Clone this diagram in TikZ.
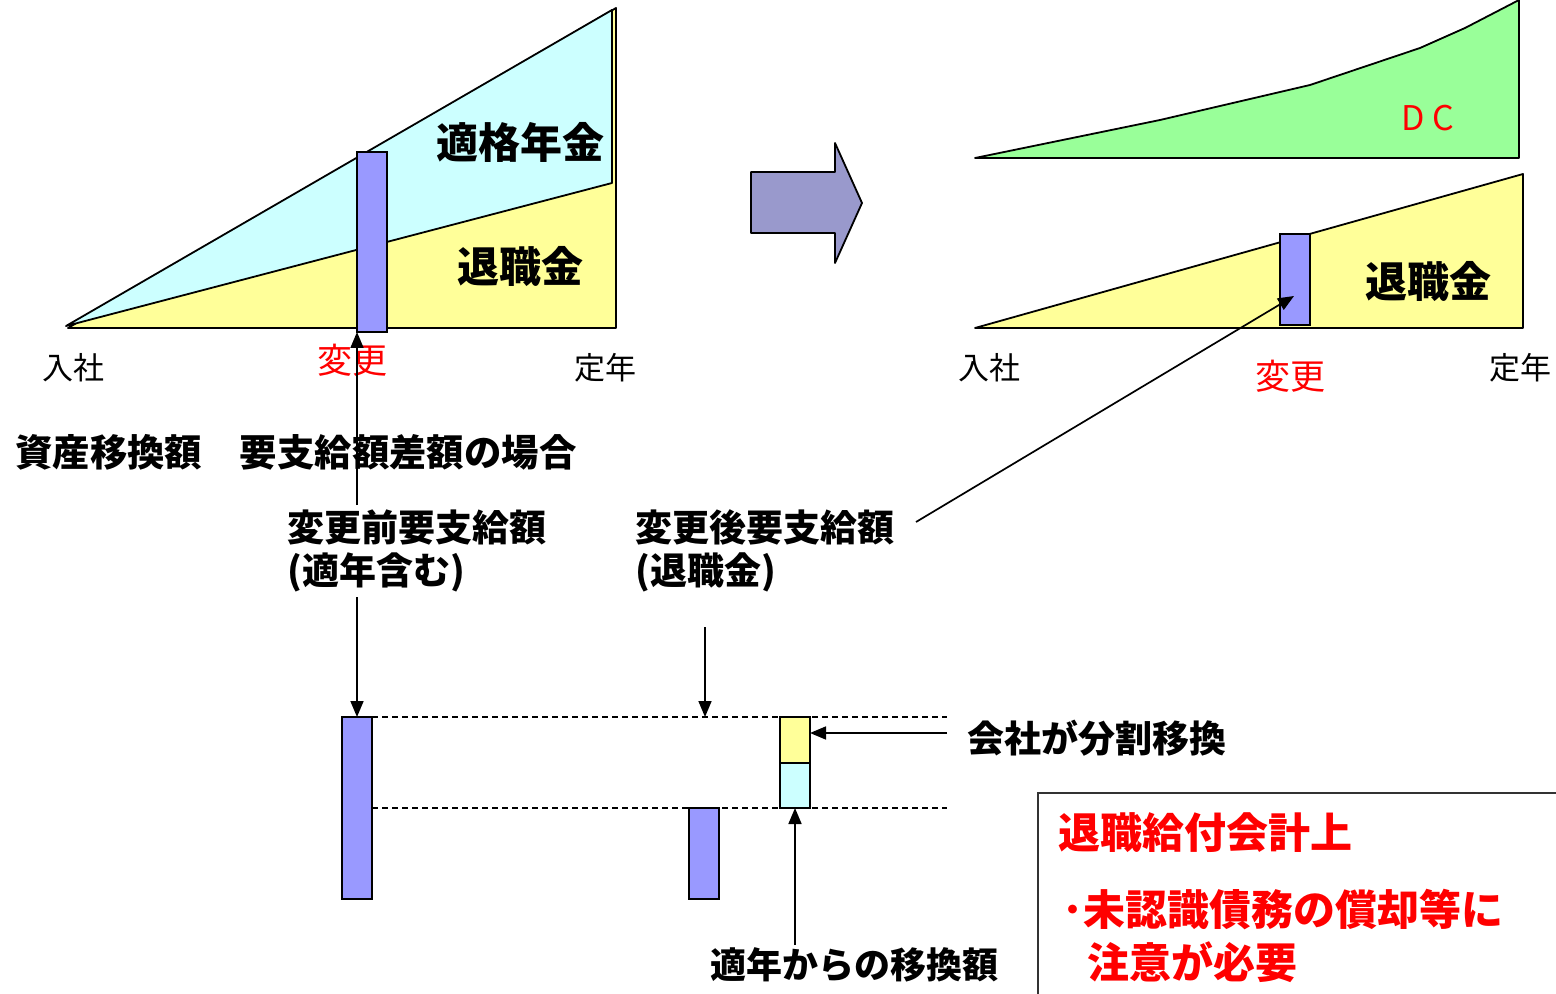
\documentclass[tikz,border=0pt]{standalone}
\usepackage{fontspec}
\setmainfont{Noto Sans CJK JP}
\usetikzlibrary{arrows.meta}
\definecolor{cyanF}{HTML}{CCFFFF}
\definecolor{yelF}{HTML}{FFFF99}
\definecolor{barF}{HTML}{9999FF}
\definecolor{grnF}{HTML}{99FF99}
\definecolor{arrF}{HTML}{9999CC}
\definecolor{redT}{HTML}{FF0000}
\begin{document}
\begin{tikzpicture}[x=0.5pt,y=-0.5pt,
  outline/.style={draw=black, line width=0.9pt, line join=round},
  barbox/.style={draw=black, line width=0.9pt, inner sep=0pt, outer sep=0pt, minimum width=15pt, fill=barF},
  lbl/.style={inner sep=0pt, anchor=west, font=\fontsize{18.5pt}{22pt}\selectfont\bfseries},
  axlbl/.style={inner sep=0pt, font=\fontsize{15.5pt}{18pt}\selectfont},
  chglbl/.style={inner sep=0pt, text=redT, font=\fontsize{17.5pt}{20pt}\selectfont},
  biglbl/.style={inner sep=0pt, font=\fontsize{21pt}{24pt}\selectfont\bfseries},
  redlbl/.style={inner sep=0pt, anchor=west, text=redT, font=\fontsize{21pt}{24pt}\selectfont\bfseries},
  arr/.style={-{Triangle[length=8pt,width=6.5pt]}, line width=0.85pt},
  dashline/.style={line width=0.9pt, dash pattern=on 3pt off 2pt}
]
\useasboundingbox (0,0) rectangle (1556,994);

% ---------- left chart ----------
\filldraw[outline, fill=yelF] (68,328) -- (616,8) -- (616,328) -- cycle;
\filldraw[outline, fill=cyanF] (66,326) -- (612,10) -- (612,183) -- cycle;
\node[barbox, minimum height=90pt] (b1) at (372,242) {};
\node[biglbl] (tekikaku) at (520,142) {適格年金};
\node[biglbl] (taishokuL) at (520,267) {退職金};
\node[axlbl] (nyushaL) at (73,368) {入社};
\node[chglbl] (henkoL) at (352,360) {変更};
\node[axlbl] (teinenL) at (605,368) {定年};

% ---------- big arrow ----------
\filldraw[outline, fill=arrF] (751,172) -- (835,172) -- (835,143) -- (862,203) -- (835,263) -- (835,233) -- (751,233) -- cycle;

% ---------- right chart ----------
\filldraw[outline, fill=grnF] (975,158) -- (1160,120) -- (1310,85) -- (1420,48) -- (1465,28) -- (1519,0) -- (1519,158) -- cycle;
\node[inner sep=0pt, text=redT, font=\fontsize{17pt}{20pt}\selectfont] (dc) at (1428,118) {D C};
\filldraw[outline, fill=yelF] (975,328) -- (1523,174) -- (1523,328) -- cycle;
\node[barbox, minimum height=45.5pt] (b2) at (1295,279.5) {};
\node[biglbl] (taishokuR) at (1428,282) {退職金};
\node[axlbl] (nyushaR) at (989,368) {入社};
\node[chglbl] (henkoR) at (1290,376) {変更};
\node[axlbl] (teinenR) at (1520,368) {定年};

% ---------- middle texts ----------
\node[lbl, font=\fontsize{18.7pt}{22pt}\selectfont\bfseries] (title) at (15,452) {資産移換額　要支給額差額の場合};
\node[lbl] (before1) at (287,527) {変更前要支給額};
\node[lbl] (before2) at (287,572) {(適年含む)};
\node[lbl] (after1) at (635,527) {変更後要支給額};
\node[lbl] (after2) at (635,572) {(退職金)};

% ---------- lower bars ----------
\node[barbox, minimum height=91pt] (lb1) at (357,808) {};
\node[barbox, minimum height=45.5pt] (mb) at (704,853.5) {};
\node[barbox, fill=yelF, minimum height=23pt] (sy) at (795,740) {};
\node[barbox, fill=cyanF, minimum height=22.5pt] (sc) at (795,785.5) {};

\coordinate (dashR) at (947,0);
\draw[dashline] (lb1.north east) -- (lb1.north east -| dashR);
\draw[dashline] (lb1.east |- mb.north) -- (mb.north -| dashR);
\draw[outline] (sy.north west) rectangle (sy.south east);

% ---------- connectors ----------
\coordinate (gapTop) at (357,505);
\coordinate (gapBot) at (357,597);
\draw[arr] (gapTop) -- (b1.south west);
\draw[arr] (gapBot) -- (lb1.north);
\coordinate (aftTop) at (705,627);
\coordinate (aftTip) at (705,717);
\draw[arr] (aftTop) -- (aftTip);
\coordinate (lineStart) at (916,522);
\coordinate (b2tip) at (1294,296);
\draw[arr] (lineStart) -- (b2tip);

\node[lbl] (kaisha) at (967,738) {会社が分割移換};
\coordinate (kStart) at (947,733);
\draw[arr] (kStart) -- (sy.east |- kStart);

\node[lbl, font=\fontsize{18pt}{22pt}\selectfont\bfseries] (tekinen) at (710,965) {適年からの移換額};
\coordinate (tStart) at (795,945);
\draw[arr] (tStart) -- (sc.south);

% ---------- note box ----------
\draw[line width=0.9pt, draw=black!80] (1038,793) rectangle (1580,1020);
\node[redlbl] (note1) at (1058,833) {退職給付会計上};
\node[redlbl] (note2) at (1062,910) {･未認識債務の償却等に};
\node[redlbl] (note3) at (1087,962) {注意が必要};
\end{tikzpicture}
\end{document}
